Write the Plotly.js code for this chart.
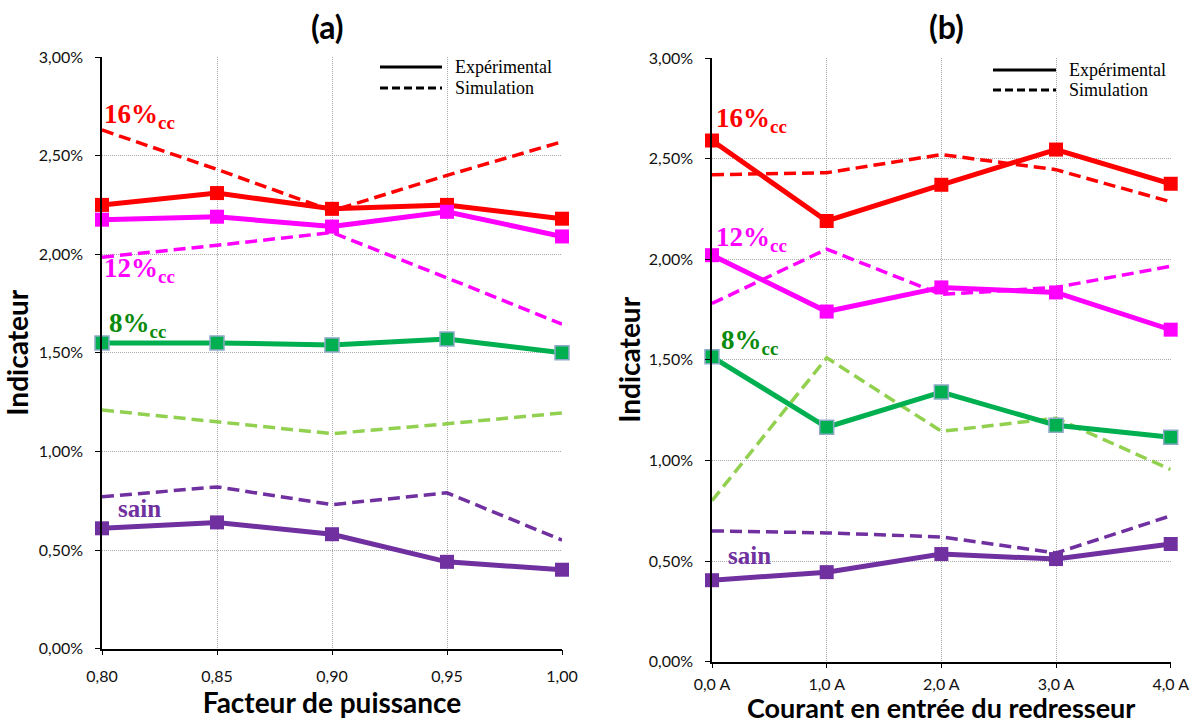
<!DOCTYPE html>
<html>
<head>
<meta charset="utf-8">
<script src="https://cdn.plot.ly/plotly-3.0.1.min.js"></script>
<style>html,body{margin:0;padding:0;background:#fff;}#chart{width:1198px;height:726px;}</style>
</head>
<body>
<div id="chart"></div>
<script>
// ---------- data ----------
const pfX = [0.80, 0.85, 0.90, 0.95, 1.00];
const curX = [0, 1, 2, 3, 4];

const aExp16 = [2.25, 2.31, 2.23, 2.25, 2.18];
const aSim16 = [2.63, 2.43, 2.22, 2.40, 2.57];
const aExp12 = [2.175, 2.19, 2.14, 2.215, 2.09];
const aSim12 = [1.985, 2.045, 2.11, 1.88, 1.645];
const aExp8 = [1.55, 1.55, 1.54, 1.57, 1.50];
const aSim8 = [1.21, 1.15, 1.09, 1.14, 1.195];
const aExpSain = [0.61, 0.64, 0.58, 0.44, 0.40];
const aSimSain = [0.77, 0.82, 0.73, 0.79, 0.55];

const bExp16 = [2.59, 2.19, 2.37, 2.545, 2.375];
const bSim16 = [2.42, 2.43, 2.52, 2.445, 2.285];
const bExp12 = [2.02, 1.74, 1.86, 1.835, 1.65];
const bSim12 = [1.78, 2.05, 1.825, 1.86, 1.965];
const bExp8 = [1.515, 1.165, 1.34, 1.175, 1.115];
const bSim8 = [0.80, 1.51, 1.145, 1.21, 0.955];
const bExpSain = [0.405, 0.445, 0.535, 0.51, 0.585];
const bSimSain = [0.65, 0.64, 0.62, 0.54, 0.725];

const seriesNames = ['16%cc', '12%cc', '8%cc', 'sain'];
const legendNames = ['Expérimental', 'Simulation'];
const xTitles = ['Facteur de puissance', 'Courant en entrée du redresseur'];
const yTitle = 'Indicateur';

// ---------- styles ----------
const colExp = ['#FF0000', '#FF00FF', '#00B050', '#7030A0'];
const colSim = ['#FF0000', '#FF00FF', '#92D050', '#7030A0'];
const markerLine = ['rgba(0,0,0,0)', 'rgba(0,0,0,0)', '#8EA9C8', 'rgba(0,0,0,0)'];
const labelCol = ['#FF0000', '#FF00FF', '#0A8A0A', '#7030A0'];

const traces = [];
function addSet(xs, exps, sims, xa, ya) {
  for (let i = 0; i < exps.length; i++) {
    traces.push({
      x: xs, y: sims[i], xaxis: xa, yaxis: ya, type: 'scatter', mode: 'lines',
      name: seriesNames[i] + ' ' + legendNames[1], showlegend: false, cliponaxis: false,
      line: {color: colSim[i], width: 3.5, dash: '12px,6px'}
    });
  }
  for (let i = 0; i < exps.length; i++) {
    traces.push({
      x: xs, y: exps[i], xaxis: xa, yaxis: ya, type: 'scatter', mode: 'lines+markers',
      name: seriesNames[i] + ' ' + legendNames[0], showlegend: false, cliponaxis: false,
      line: {color: colExp[i], width: 5},
      marker: {symbol: 'square', size: 14, color: colExp[i], line: {color: markerLine[i], width: 1.5}}
    });
  }
}
addSet(pfX, [aExp16, aExp12, aExp8, aExpSain], [aSim16, aSim12, aSim8, aSimSain], 'x', 'y');
addSet(curX, [bExp16, bExp12, bExp8, bExpSain], [bSim16, bSim12, bSim8, bSimSain], 'x2', 'y2');

const sansFam = 'Lato, "Open Sans", sans-serif';
const tickFont = {family: sansFam, size: 16, color: '#111'};
const titleFont = {family: sansFam, size: 28, color: '#000', weight: 'bold'};
const gridCommon = {
  showgrid: true, gridcolor: '#A8A8A8', griddash: '1px,1px', gridwidth: 1,
  showline: true, linecolor: '#000', linewidth: 1.5, ticks: 'outside', ticklen: 5, tickcolor: '#000',
  tickfont: tickFont, zeroline: false, fixedrange: true
};

const serif = '"Liberation Serif", "Times New Roman", serif';
function lab(xr, yr, x, y, i) {
  const base = seriesNames[i] === 'sain' ? 'sain' : seriesNames[i].replace('cc', '<sub>cc</sub>');
  return {xref: xr, yref: yr, x: x, y: y, text: '<b>' + base + '</b>', showarrow: false,
    xanchor: 'left', yanchor: 'middle',
    font: {family: serif, size: seriesNames[i] === 'sain' ? 25 : 27, color: labelCol[i]}};
}

// legend keys (drawn as paper shapes + texts)
const legendSpec = [
  {x0: 380, x1: 442, y: [67, 88], tx: 453},
  {x0: 993, x1: 1056, y: [70, 90], tx: 1067}
];
const shapes = [];
const legendAnn = [];
legendSpec.forEach(s => {
  [0, 1].forEach(k => {
    shapes.push({type: 'line', xref: 'paper', yref: 'paper',
      x0: s.x0 / 1198, x1: s.x1 / 1198, y0: 1 - s.y[k] / 726, y1: 1 - s.y[k] / 726,
      line: {color: '#000', width: 3, dash: k === 0 ? 'solid' : '8px,4px'}});
    legendAnn.push({xref: 'paper', yref: 'paper', x: s.tx / 1198, y: 1 - s.y[k] / 726,
      xanchor: 'left', yanchor: 'middle', showarrow: false, text: legendNames[k],
      font: {family: serif, size: 18, color: '#000'}});
  });
});

const layout = {
  width: 1198, height: 726,
  margin: {l: 0, r: 0, t: 0, b: 0},
  paper_bgcolor: '#fff', plot_bgcolor: '#fff',
  separators: ', ',
  showlegend: false,
  xaxis: Object.assign({}, gridCommon, {
    domain: [102/1198, 562/1198], range: [0.80, 1.00], dtick: 0.05, tick0: 0.8, tickformat: '.2f',
    anchor: 'y', ticklabelstandoff: 7,
    title: {text: '<b>' + xTitles[0] + '</b>', font: titleFont, standoff: 7}
  }),
  yaxis: Object.assign({}, gridCommon, {
    domain: [77.4/726, 669/726], range: [0, 3], dtick: 0.5, tickformat: '.2f', ticksuffix: '%',
    anchor: 'x', ticklabelstandoff: 9,
    title: {text: '<b>' + yTitle + '</b>', font: titleFont, standoff: 3}
  }),
  xaxis2: Object.assign({}, gridCommon, {
    domain: [712/1198, 1170.7/1198], range: [0, 4], dtick: 1, tickformat: '.1f', ticksuffix: ' A',
    anchor: 'y2', ticklabelstandoff: 2
  }),
  yaxis2: Object.assign({}, gridCommon, {
    domain: [64.3/726, 668/726], range: [0, 3], dtick: 0.5, tickformat: '.2f', ticksuffix: '%',
    anchor: 'x2', ticklabelstandoff: 9,
    title: {text: '<b>' + yTitle + '</b>', font: titleFont, standoff: 0}
  }),
  shapes: shapes,
  annotations: [
    {xref: 'paper', yref: 'paper', x: 327/1198, y: 1 - 27/726, xanchor: 'center', yanchor: 'middle',
      text: '<b>(a)</b>', showarrow: false, font: {family: sansFam, size: 32, color: '#000'}},
    {xref: 'paper', yref: 'paper', x: 946/1198, y: 1 - 27/726, xanchor: 'center', yanchor: 'middle',
      text: '<b>(b)</b>', showarrow: false, font: {family: sansFam, size: 32, color: '#000'}},
    {xref: 'x2 domain', yref: 'paper', x: 0.5, y: 0, xanchor: 'center', yanchor: 'bottom',
      text: '<b>' + xTitles[1] + '</b>', showarrow: false,
      font: {family: sansFam, size: 27, color: '#000', weight: 'bold'}},
    lab('x', 'y', 0.80, 2.70, 0),
    lab('x', 'y', 0.80, 1.92, 1),
    lab('x', 'y', 0.802, 1.64, 2),
    lab('x', 'y', 0.806, 0.71, 3),
    lab('x2', 'y2', 0.02, 2.69, 0),
    lab('x2', 'y2', 0.02, 2.10, 1),
    lab('x2', 'y2', 0.06, 1.59, 2),
    lab('x2', 'y2', 0.12, 0.53, 3)
  ].concat(legendAnn)
};

Plotly.newPlot('chart', traces, layout, {displayModeBar: false, responsive: false});
</script>
</body>
</html>
